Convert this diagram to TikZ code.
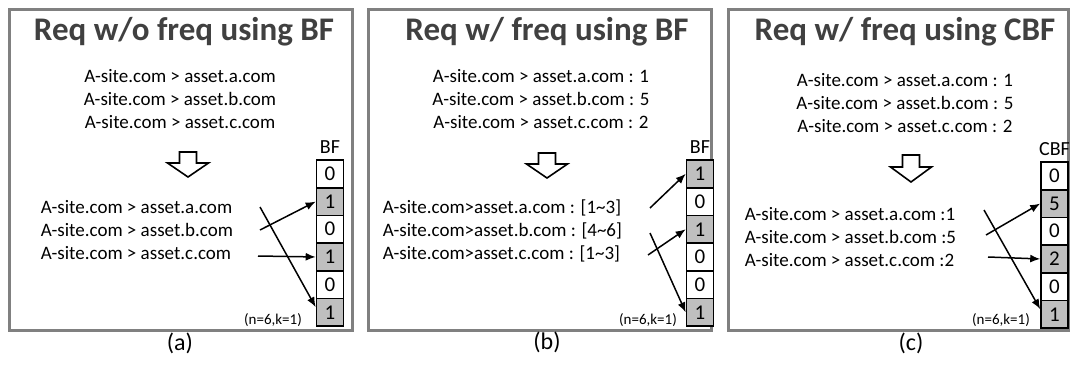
\documentclass[tikz,border=0pt]{standalone}
\usepackage{fontspec}
\setmainfont{Carlito}
\usetikzlibrary{shapes,arrows.meta,positioning}

\begin{document}
\begin{tikzpicture}[->,>={Latex[length=10pt,width=8pt]}, x=1pt, y=-1pt, line width=1.5pt]
	\tikzstyle{frame}=[draw=gray, line width=3pt, -]
	\tikzstyle{title}=[font=\fontsize{33}{33}\selectfont\bfseries, text=black!75, inner sep=0pt]
	\tikzstyle{entry}=[font=\fontsize{19}{23}\selectfont, align=center, inner sep=0pt]
	\tikzstyle{hashed}=[font=\fontsize{19}{23}\selectfont, align=left, inner sep=0pt, anchor=west]
	\tikzstyle{cell}=[draw, fill=white, line width=1.6pt, minimum width=27pt, minimum height=27.7pt,
		inner sep=0pt, font=\fontsize{21}{21}\selectfont, node distance=27.7pt]
	\tikzstyle{set}=[cell, fill=gray!50]
	\tikzstyle{filtername}=[font=\fontsize{20}{20}\selectfont, node distance=27pt]
	\tikzstyle{param}=[font=\fontsize{15}{15}\selectfont, inner sep=0pt]
	\tikzstyle{caption}=[font=\fontsize{24}{24}\selectfont, inner sep=0pt]
	\tikzstyle{bigarrow}=[draw, line width=1.6pt, fill=white, -]
	\useasboundingbox (0,0) rectangle (1071,365);

	% (a) request without frequency, BF
	\draw[frame] (9,9) rectangle (352,330);
	\node[title] (titleA) at (184,32) {Req w/o freq using BF};
	\node[entry] (reqA) at (180,99) {A-site.com > asset.a.com\\A-site.com > asset.b.com\\A-site.com > asset.c.com};
	\draw[bigarrow] (179.5,152) -- ++(17,0) -- ++(0,11) -- ++(12,0) -- ++(-20.5,14) -- ++(-20.5,-14) -- ++(12,0) -- cycle;
	\node[hashed] (mapA) at (40,230) {A-site.com > asset.a.com\\A-site.com > asset.b.com\\A-site.com > asset.c.com};
	\node[cell] (a0) at (330,173.85) {0};
	\node[set] (a1) [below of=a0] {1};
	\node[cell] (a2) [below of=a1] {0};
	\node[set] (a3) [below of=a2] {1};
	\node[cell] (a4) [below of=a3] {0};
	\node[set] (a5) [below of=a4] {1};
	\node[filtername] (bfA) [above of=a0] {BF};
	\node[param] (nkA) at (273,320) {(n=6,k=1)};
	\node[caption] (capA) at (180,343) {(a)};
	\coordinate (fromA1) at (260,230);
	\coordinate (fromA2) at (258,256);
	\coordinate (fromA3) at (260,207);
	\path (fromA1) edge (a1.west);
	\path (fromA2) edge (a3.west);
	\path (fromA3) edge (a5.160);

	% (b) request with frequency, BF
	\draw[frame] (368,9) rectangle (711,330);
	\node[title] (titleB) at (547,32) {Req w/ freq using BF};
	\node[entry] (reqB) at (541,99) {A-site.com > asset.a.com : 1\\A-site.com > asset.b.com : 5\\A-site.com > asset.c.com : 2};
	\draw[bigarrow] (538.5,153) -- ++(17,0) -- ++(0,11) -- ++(12,0) -- ++(-20.5,14) -- ++(-20.5,-14) -- ++(12,0) -- cycle;
	\node[hashed] (mapB) at (382,231) {A-site.com>asset.a.com : [1\textasciitilde3]\\A-site.com>asset.b.com : [4\textasciitilde6]\\A-site.com>asset.c.com : [1\textasciitilde3]};
	\node[set] (b0) at (700,173.85) {1};
	\node[cell] (b1) [below of=b0] {0};
	\node[set] (b2) [below of=b1] {1};
	\node[cell] (b3) [below of=b2] {0};
	\node[cell] (b4) [below of=b3] {0};
	\node[set] (b5) [below of=b4] {1};
	\node[filtername] (bfB) [above of=b0] {BF};
	\node[param] (nkB) at (648,320) {(n=6,k=1)};
	\node[caption] (capB) at (547,342) {(b)};
	\coordinate (fromB1) at (650,208);
	\coordinate (fromB2) at (650,233);
	\coordinate (fromB3) at (648,255);
	\path (fromB1) edge (b0.west);
	\path (fromB2) edge (b5.west);
	\path (fromB3) edge (b2.west);

	% (c) request with frequency, CBF
	\draw[frame] (728,9) rectangle (1068,330);
	\node[title] (titleC) at (905,32) {Req w/ freq using CBF};
	\node[entry] (reqC) at (905,103) {A-site.com > asset.a.com : 1\\A-site.com > asset.b.com : 5\\A-site.com > asset.c.com : 2};
	\draw[bigarrow] (902.5,155) -- ++(17,0) -- ++(0,12) -- ++(12,0) -- ++(-20.5,15) -- ++(-20.5,-15) -- ++(12,0) -- cycle;
	\node[hashed] (mapC) at (744,237) {A-site.com > asset.a.com :1\\A-site.com > asset.b.com :5\\A-site.com > asset.c.com :2};
	\node[cell] (c0) at (1054.5,175.85) {0};
	\node[set] (c1) [below of=c0] {5};
	\node[cell] (c2) [below of=c1] {0};
	\node[set] (c3) [below of=c2] {2};
	\node[cell] (c4) [below of=c3] {0};
	\node[set] (c5) [below of=c4] {1};
	\node[filtername] (cbfC) [above of=c0] {CBF};
	\node[param] (nkC) at (1001,320) {(n=6,k=1)};
	\node[caption] (capC) at (911,343) {(c)};
	\coordinate (fromC1) at (986,235);
	\coordinate (fromC2) at (988,257);
	\coordinate (fromC3) at (984,210);
	\path (fromC1) edge (c1.west);
	\path (fromC2) edge (c3.west);
	\path (fromC3) edge (c5.160);
\end{tikzpicture}
\end{document}
